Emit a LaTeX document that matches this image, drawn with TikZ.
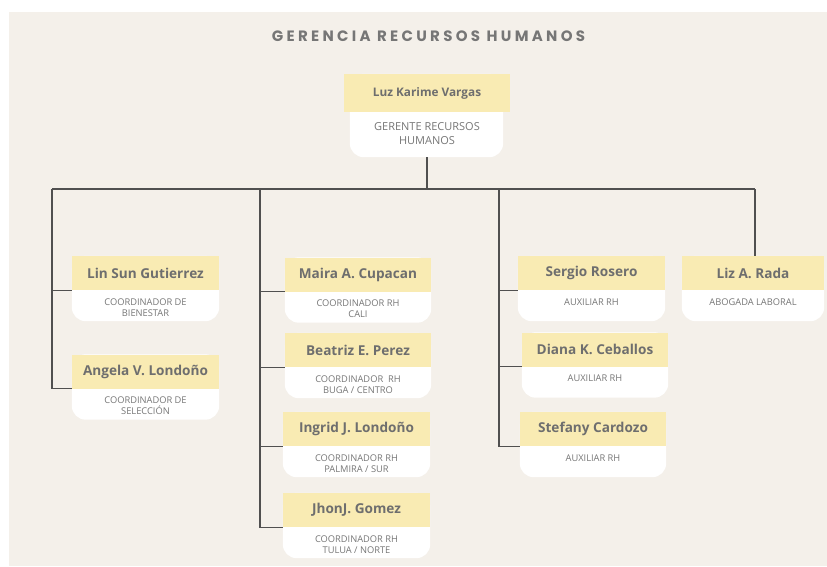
\documentclass[tikz,border=0pt]{standalone}
\usepackage{fontspec}
\setmainfont{Open Sans}
\newfontfamily\titlefont{Poppins}[LetterSpace=22]
\usetikzlibrary{positioning, calc, backgrounds}

\definecolor{paper}{HTML}{F4F0EA}
\definecolor{namefill}{HTML}{F9EBB3}
\definecolor{inkgray}{HTML}{6E6E6E}
\definecolor{rolegray}{HTML}{767676}
\definecolor{linegray}{HTML}{505050}

\tikzset{
  namebox/.style={fill=namefill, minimum width=147pt, minimum height=34pt,
    inner sep=0pt, text=inkgray, font=\bfseries\fontsize{13.6}{15}\selectfont},
  rolebox/.style={inner sep=0pt, align=center, text=rolegray,
    font=\fontsize{9.3}{11}\selectfont},
  cardfill/.style={fill=white, rounded corners=14pt},
  branch/.style={draw=linegray, line width=1.2pt},
}

\begin{document}
\begin{tikzpicture}[x=1pt, y=-1pt]
  \useasboundingbox (0,0) rectangle (827,567);
  \begin{scope}[on background layer]
    \fill[white] (0,0) rectangle (827,567);
    \fill[paper] (9,12) rectangle (827,566);
  \end{scope}

  \node[text=rolegray, font=\titlefont\bfseries\fontsize{15}{18}\selectfont]
    (title) at (428.5,36) {GERENCIA RECURSOS HUMANOS};

  % gerente
  \node[namebox, minimum width=166pt, minimum height=38pt, font=\bfseries\fontsize{11.8}{14}\selectfont]
    (luz) at (427,93) {Luz Karime Vargas};
  \node[rolebox, below=10pt of luz, font=\fontsize{11}{14}\selectfont] (luz-r) {GERENTE RECURSOS\\HUMANOS};
  \coordinate (luz-foot) at ($(luz.south)+(0,45)$);

  % bienestar / seleccion
  \node[namebox] (lin) at (145.5,273) {Lin Sun Gutierrez};
  \node[rolebox, below=8pt of lin] (lin-r) {COORDINADOR DE\\BIENESTAR};
  \node[namebox] (angela) at (145.5,371.5) {Angela V. Londoño};
  \node[rolebox, below=8pt of angela] (angela-r) {COORDINADOR DE\\SELECCIÓN};

  % coordinadores rh
  \node[namebox, minimum width=146pt] (maira) at (358,274.5) {Maira A. Cupacan};
  \node[rolebox, below=8pt of maira] (maira-r) {COORDINADOR RH\\CALI};
  \node[namebox, minimum width=146pt] (beatriz) at (358,350) {Beatriz E. Perez};
  \node[rolebox, below=8pt of beatriz] (beatriz-r) {COORDINADOR~ RH\\BUGA / CENTRO};
  \node[namebox] (ingrid) at (356.5,429) {Ingrid J. Londoño};
  \node[rolebox, below=8pt of ingrid] (ingrid-r) {COORDINADOR RH\\PALMIRA / SUR};
  \node[namebox] (jhon) at (356.5,510) {JhonJ. Gomez};
  \node[rolebox, below=8pt of jhon] (jhon-r) {COORDINADOR RH\\TULUA / NORTE};

  % auxiliares
  \node[namebox] (sergio) at (591.5,273) {Sergio Rosero};
  \node[rolebox, below=8pt of sergio] (sergio-r) {AUXILIAR RH};
  \node[namebox, minimum width=146pt] (diana) at (595,349.5) {Diana K. Ceballos};
  \node[rolebox, below=8pt of diana] (diana-r) {AUXILIAR RH};
  \node[namebox, minimum width=146pt] (stefany) at (593,429) {Stefany Cardozo};
  \node[rolebox, below=8pt of stefany] (stefany-r) {AUXILIAR RH};

  % abogada
  \node[namebox, minimum width=142pt] (liz) at (753,273) {Liz A. Rada};
  \node[rolebox, below=8pt of liz] (liz-r) {ABOGADA LABORAL};

  % white card bottoms
  \begin{scope}[on background layer]
    \fill[cardfill] ($(luz.north west)+(6,0)$) rectangle ($(luz.south east)+(-7,45)$);
    \foreach \p in {lin,angela,maira,beatriz,ingrid,jhon,sergio,diana,stefany,liz}
      \fill[cardfill] (\p.north west) rectangle ($(\p.south east)+(0,31)$);
  \end{scope}

  % connectors
  \coordinate (bus-l) at (52,189);
  \coordinate (bus-m) at (260,189);
  \coordinate (bus-a) at (499,189);
  \coordinate (bus-r) at (755,189);
  \draw[branch] (bus-l) -- (bus-r);
  \draw[branch] (luz-foot) -- (luz-foot |- bus-l);
  \draw[branch] (bus-l) |- (angela.south west);
  \draw[branch] (bus-l |- lin.south west) -- (lin.south west);
  \draw[branch] (bus-m) |- (jhon.south west);
  \foreach \p in {maira,beatriz,ingrid}
    \draw[branch] (bus-m |- \p.south west) -- (\p.south west);
  \draw[branch] (bus-a) |- (stefany.south west);
  \foreach \p in {sergio,diana}
    \draw[branch] (bus-a |- \p.south west) -- (\p.south west);
  \draw[branch] (bus-r) -- (bus-r |- liz.north);
\end{tikzpicture}
\end{document}
